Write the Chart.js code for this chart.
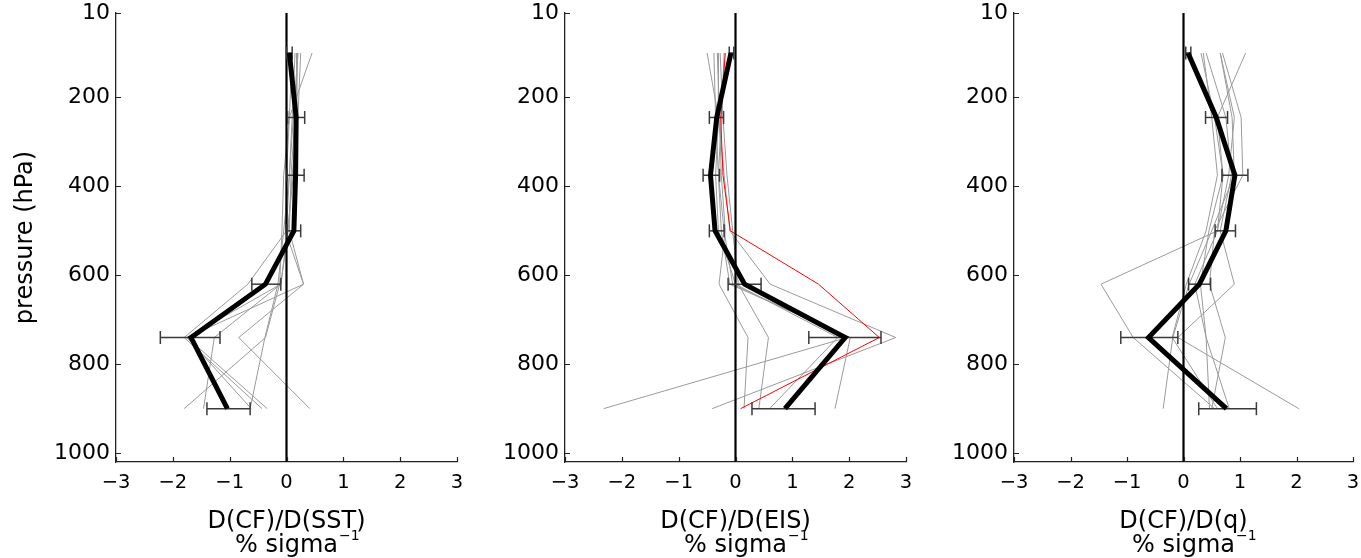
<!DOCTYPE html>
<html><head><meta charset="utf-8">
<script src="https://cdn.jsdelivr.net/npm/chart.js@4.4.1/dist/chart.umd.min.js"></script>
<style>
html,body{margin:0;padding:0;background:#fff;width:1361px;height:558px;overflow:hidden}
canvas{position:absolute;top:0}
</style></head><body>
<canvas id="c1" width="470" height="558" style="left:0px"></canvas>
<canvas id="c2" width="455" height="558" style="left:465px"></canvas>
<canvas id="c3" width="447" height="558" style="left:914px"></canvas>
<script>
// pressure levels (hPa)
const levels = [100, 245, 375, 500, 620, 740, 900];
const yTicks = [10, 200, 400, 600, 800, 1000];
const xTicks = [-3, -2, -1, 0, 1, 2, 3];
const yMin = 10, yMax = 1020;

// Panel 1: D(CF)/D(SST)
const sstMean = [0.05, 0.17, 0.16, 0.13, -0.37, -1.68, -1.04];
const sstLo   = [0.00, 0.02, 0.01, 0.01, -0.61, -2.22, -1.40];
const sstHi   = [0.10, 0.32, 0.31, 0.25, -0.10, -1.17, -0.64];
const sstM1 = [0.15, 0.10, 0.05, 0.00, -0.68, -1.80, -0.43];
const sstM2 = [0.20, 0.15, 0.08, 0.05, 0.30, -0.84, 0.41];
const sstM3 = [0.25, 0.20, 0.10, 0.03, -0.10, -1.27, -1.46];
const sstM4 = [0.10, 0.05, -0.05, -0.08, -0.12, -0.37, -1.80];
const sstM5 = [0.45, 0.05, 0.00, -0.02, 0.30, -1.75, -0.34];
const sstM6 = [0.20, 0.12, 0.05, -0.05, -0.15, -0.38, -0.64];
const sstM7 = [0.18, 0.18, 0.12, 0.02, -0.10, -1.75, -0.62];

// Panel 2: D(CF)/D(EIS)
const eisMean = [-0.08, -0.33, -0.44, -0.36, 0.16, 1.93, 0.87];
const eisLo   = [-0.11, -0.46, -0.57, -0.46, -0.13, 1.29, 0.29];
const eisHi   = [-0.03, -0.21, -0.28, -0.20, 0.45, 2.56, 1.40];
const eisRed  = [-0.18, -0.26, -0.22, -0.09, 1.46, 2.53, 0.09];
const eisM1 = [-0.50, -0.30, -0.20, -0.10, 0.61, 2.82, -0.41];
const eisM2 = [-0.38, -0.35, -0.30, -0.20, -0.05, 1.96, -2.32];
const eisM3 = [-0.32, -0.28, -0.25, -0.18, -0.29, 0.22, 0.15];
const eisM4 = [-0.27, -0.22, -0.15, -0.05, 0.05, 0.58, 0.41];
const eisM5 = [-0.20, -0.25, -0.30, -0.25, -0.10, 2.02, 1.75];
const eisM6 = [-0.30, -0.30, -0.35, -0.30, 0.00, 1.80, 0.60];

// Panel 3: D(CF)/D(q)
const qMean = [0.08, 0.58, 0.91, 0.75, 0.28, -0.62, 0.76];
const qLo   = [0.04, 0.39, 0.68, 0.56, 0.09, -1.11, 0.27];
const qHi   = [0.13, 0.78, 1.14, 0.92, 0.48, -0.10, 1.29];
const qM1 = [0.31, 0.55, 0.70, 0.60, -1.46, -0.89, 0.55];
const qM2 = [0.40, 0.75, 0.85, 0.65, 0.90, -0.10, 2.04];
const qM3 = [0.65, 0.86, 0.90, 0.50, 0.10, -0.19, -0.36];
const qM4 = [0.69, 1.02, 1.05, 0.55, 0.46, 0.74, 0.50];
const qM5 = [1.10, 0.60, 0.70, 0.45, 0.30, 0.40, 0.81];
const qM6 = [0.35, 0.50, 0.60, 0.40, 0.05, -0.20, 0.60];
const qM7 = [0.65, 0.90, 0.80, 0.60, 0.20, 0.40, 0.46];

const FONT = '"DejaVu Sans", "Liberation Sans", Arial, sans-serif';
const GRAY = '#9a9a9a';

function profile(xs, color, width, order) {
  return { data: levels.map((p, i) => ({ x: xs[i], y: p })), borderColor: color,
    borderWidth: width, pointRadius: 0, showLine: true, fill: false, order: order };
}
function errBars(lo, hi) {
  return levels.map((p, i) => ({
    data: [{ x: lo[i], y: p }, { x: hi[i], y: p }],
    borderColor: '#3a3a3a', borderWidth: 1.5, showLine: true,
    pointStyle: 'line', pointRotation: 90, pointRadius: 6.5,
    pointBorderColor: '#3a3a3a', pointBorderWidth: 1.5, pointHoverRadius: 6.5, order: 1 }));
}
function zeroLine() {
  return { data: [{ x: 0, y: yMin }, { x: 0, y: yMax }], borderColor: '#000', borderWidth: 2.2,
    pointRadius: 0, showLine: true, order: 2 };
}

const innerTicks = {
  id: 'innerTicks',
  afterDraw(chart) {
    const { ctx, chartArea: a, scales: { x, y } } = chart;
    ctx.save();
    ctx.strokeStyle = '#222'; ctx.lineWidth = 1.2;
    ctx.beginPath();
    x.ticks.forEach(t => { const px = Math.round(x.getPixelForValue(t.value)) + 0.5; ctx.moveTo(px, a.bottom); ctx.lineTo(px, a.bottom - 5); });
    y.ticks.forEach(t => { const py = Math.round(y.getPixelForValue(t.value)) + 0.5; ctx.moveTo(a.left, py); ctx.lineTo(a.left + 5, py); });
    ctx.stroke();
    ctx.restore();
  }
};
const unitLabel = {
  id: 'unitLabel',
  afterDraw(chart) {
    const { ctx, chartArea: a } = chart;
    const cx = (a.left + a.right) / 2;
    ctx.save();
    ctx.fillStyle = '#000';
    ctx.font = '24px ' + FONT;
    ctx.textAlign = 'center'; ctx.textBaseline = 'alphabetic';
    const main = '% sigma';
    const w = ctx.measureText(main).width;
    ctx.fillText(main, cx, 552);
    ctx.font = '14px ' + FONT;
    ctx.textAlign = 'left';
    ctx.fillText('\u22121', cx + w / 2 + 1, 540);
    ctx.restore();
  }
};

function makePanel(id, yWidth, padRight, xTitle, yTitle, datasets) {
  new Chart(document.getElementById(id), {
    type: 'scatter',
    data: { datasets: datasets },
    options: {
      responsive: false, animation: false,
      layout: { padding: { top: 13, right: padRight, left: 0, bottom: 0 } },
      plugins: { legend: { display: false }, tooltip: { enabled: false } },
      scales: {
        x: {
          type: 'linear', min: -3, max: 3,
          afterBuildTicks: s => { s.ticks = xTicks.map(v => ({ value: v })); },
          afterFit: s => { s.height = 96; s.paddingLeft = 0; s.paddingRight = 0; },
          grid: { display: false, drawTicks: false },
          border: { display: true, color: '#222', width: 1.3 },
          ticks: { padding: 9, color: '#000', font: { family: FONT, size: 19.5 },
            callback: v => v < 0 ? '\u2212' + Math.abs(v) : String(v), maxRotation: 0 },
          title: { display: true, text: xTitle, color: '#000', font: { family: FONT, size: 24, lineHeight: 1.2 },
            padding: { top: 0, bottom: 22 } }
        },
        y: {
          type: 'linear', reverse: true, min: yMin, max: yMax,
          afterBuildTicks: s => { s.ticks = yTicks.map(v => ({ value: v })); },
          afterFit: s => { s.width = yWidth; s.paddingTop = 0; s.paddingBottom = 0; },
          grid: { display: false, drawTicks: false },
          border: { display: true, color: '#222', width: 1.3 },
          ticks: { padding: 6, color: '#000', font: { family: FONT, size: 22 }, callback: v => String(v) },
          title: { display: !!yTitle, text: yTitle || '', color: '#000', font: { family: FONT, size: 24, lineHeight: 1.2 },
            padding: { top: 11, bottom: 0 } }
        }
      }
    },
    plugins: [innerTicks, unitLabel]
  });
}

makePanel('c1', 116, 13, 'D(CF)/D(SST)', 'pressure (hPa)', [
  profile(sstMean, '#000', 5, 0),
  ...errBars(sstLo, sstHi),
  zeroLine(),
  ...[sstM1, sstM2, sstM3, sstM4, sstM5, sstM6, sstM7].map(m => profile(m, GRAY, 1, 4))
]);
makePanel('c2', 100, 14, 'D(CF)/D(EIS)', null, [
  profile(eisMean, '#000', 5, 0),
  ...errBars(eisLo, eisHi),
  zeroLine(),
  profile(eisRed, '#ff0000', 1, 3),
  ...[eisM1, eisM2, eisM3, eisM4, eisM5, eisM6].map(m => profile(m, GRAY, 1, 4))
]);
makePanel('c3', 100, 6, 'D(CF)/D(q)', null, [
  profile(qMean, '#000', 5, 0),
  ...errBars(qLo, qHi),
  zeroLine(),
  ...[qM1, qM2, qM3, qM4, qM5, qM6, qM7].map(m => profile(m, GRAY, 1, 4))
]);
</script>
</body></html>
